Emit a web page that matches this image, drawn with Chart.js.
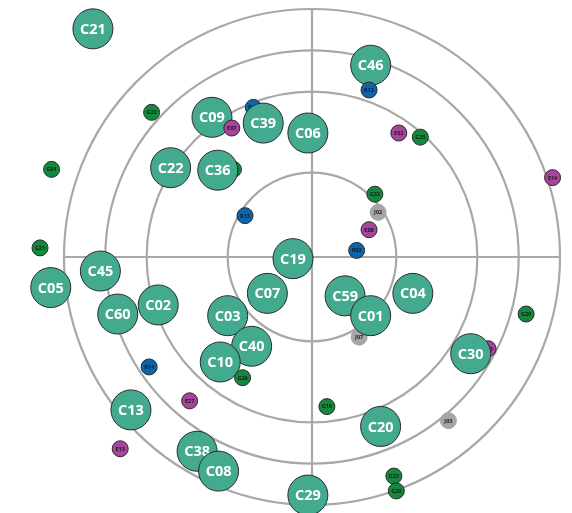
<!DOCTYPE html>
<html>
<head>
<meta charset="utf-8">
<title>Bubble rings</title>
<script src="https://cdn.jsdelivr.net/npm/chart.js@4.4.1/dist/chart.umd.min.js"></script>
<style>
    html, body { margin: 0; padding: 0; background: #ffffff; }
    #wrap { width: 572px; height: 513px; }
</style>
</head>
<body>
<div id="wrap"><canvas id="chart" width="572" height="513"></canvas></div>
<script>
// Ring radii of the target, in data units
const ringRadii = [1.02, 2, 2.5, 3];

// Points, listed in drawing order (first one ends up at the bottom)
const pointIds = [
    'R05', 'G05', 'E23', 'J07', 'C59', 'C38', 'C03', 'C40', 'C46',
    'C21', 'C09', 'E07', 'C39', 'C22', 'C36', 'C06', 'C45', 'C05', 'C60',
    'C02', 'C07', 'C10', 'C13', 'C08', 'C19', 'C01', 'C04', 'C30', 'C20', 'C29',
    'G22', 'G01', 'R13', 'G21', 'R12', 'E02', 'G25', 'E14', 'G32', 'J02',
    'E08', 'R02', 'G26', 'R14', 'E27', 'E13', 'G29', 'G10', 'J03', 'G23', 'G20'
];
const pointX = [
    -0.71, -0.95, 2.13, 0.57, 0.40, -1.39, -1.02, -0.73, 0.71,
    -2.65, -1.21, -0.97, -0.59, -1.71, -1.14, -0.05, -2.56, -3.16, -2.35,
    -1.86, -0.54, -1.11, -2.19, -1.13, -0.23, 0.71, 1.22, 1.92, 0.83, -0.05,
    -1.94, -3.15, -0.81, -3.29, 0.69, 1.05, 1.31, 2.91, 0.76, 0.80,
    0.69, 0.54, -0.84, -1.97, -1.48, -2.32, 2.59, 0.18, 1.65, 0.99, 1.02
];
const pointY = [
    1.81, 1.06, -1.11, -0.97, -0.47, -2.35, -0.71, -1.08, 2.32,
    2.76, 1.69, 1.56, 1.62, 1.08, 1.05, 1.50, -0.17, -0.37, -0.69,
    -0.58, -0.44, -1.27, -1.85, -2.59, -0.02, -0.71, -0.44, -1.17, -2.05, -2.88,
    1.75, 1.06, 0.50, 0.11, 2.02, 1.50, 1.45, 0.96, 0.76, 0.54,
    0.33, 0.08, -1.46, -1.33, -1.74, -2.32, -0.69, -1.81, -1.98, -2.65, -2.83
];

// Look per group (first letter of the id)
const groupFill = { C: '#44aa8f', G: '#118a3d', R: '#0d65a9', E: '#a6449e', J: '#a6a6a6' };
const groupEdge = { C: '#2a2a2a', G: '#2a2a2a', R: '#2a2a2a', E: '#2a2a2a', J: '#a6a6a6' };
const groupRadius = { C: 20, G: 8, R: 8, E: 8, J: 8 };

// Rings and cross-hair, drawn under the bubbles
const ringsPlugin = {
    id: 'rings',
    beforeDatasetsDraw(chart) {
        const { ctx, scales: { x, y } } = chart;
        const cx = x.getPixelForValue(0);
        const cy = y.getPixelForValue(0);
        const outer = ringRadii[ringRadii.length - 1];

        ctx.save();
        ctx.strokeStyle = '#a8a8a8';
        ctx.lineWidth = 2.2;
        ringRadii.forEach(r => {
            const rx = Math.abs(x.getPixelForValue(r) - cx);
            const ry = Math.abs(y.getPixelForValue(r) - cy);
            ctx.beginPath();
            ctx.ellipse(cx, cy, rx, ry, 0, 0, Math.PI * 2);
            ctx.stroke();
        });
        ctx.beginPath();
        ctx.moveTo(x.getPixelForValue(-outer), cy);
        ctx.lineTo(x.getPixelForValue(outer), cy);
        ctx.moveTo(cx, y.getPixelForValue(outer));
        ctx.lineTo(cx, y.getPixelForValue(-outer));
        ctx.stroke();
        ctx.restore();
    }
};

// Label each bubble right after it is drawn so overlaps hide the label too
const bubbleLabels = {
    id: 'bubbleLabels',
    afterDatasetDraw(chart, args) {
        const ds = chart.data.datasets[args.index];
        const el = args.meta.data[0];
        if (!el) return;
        const big = ds.label[0] === 'C';
        const { ctx } = chart;
        ctx.save();
        ctx.textAlign = 'center';
        ctx.textBaseline = 'middle';
        ctx.fillStyle = big ? '#ffffff' : '#1a1a1a';
        ctx.font = big ? 'bold 14.5px "Open Sans", sans-serif' : 'bold 5.5px "Open Sans", sans-serif';
        ctx.fillText(ds.label, el.x, el.y + (big ? 1 : 0.3));
        ctx.restore();
    }
};

// One dataset per bubble; lower `order` is painted on top in Chart.js
const datasets = pointIds.map((id, i) => {
    const g = id[0];
    return {
        label: id,
        data: [{ x: pointX[i], y: pointY[i], r: groupRadius[g] }],
        backgroundColor: groupFill[g],
        borderColor: groupEdge[g],
        borderWidth: 1,
        order: pointIds.length - i,
        clip: false
    };
});

new Chart(document.getElementById('chart'), {
    type: 'bubble',
    data: { datasets },
    options: {
        responsive: false,
        animation: false,
        events: [],
        layout: { padding: 0, autoPadding: false },
        plugins: {
            legend: { display: false },
            tooltip: { enabled: false }
        },
        scales: {
            x: { type: 'linear', display: false, min: -3.774, max: 3.145 },
            y: { type: 'linear', display: false, min: -3.097, max: 3.109 }
        }
    },
    plugins: [ringsPlugin, bubbleLabels]
});
</script>
</body>
</html>
